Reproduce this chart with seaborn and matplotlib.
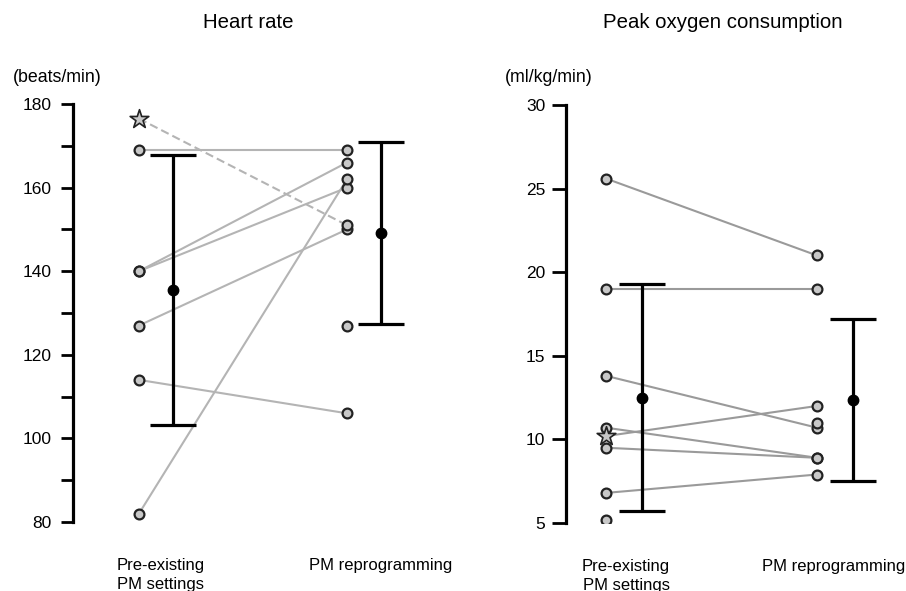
import numpy as np
import pandas as pd
import matplotlib
matplotlib.use("Agg")
import matplotlib.pyplot as plt
import seaborn as sns

# ---------------- data ----------------
groups = ["Pre-existing\nPM settings", "PM reprogramming"]

# Heart rate (beats/min); NaN = no paired value
hr_pre = [176.5, 169, 140, 140, 127, 114, 82, np.nan]
hr_post = [151, 169, 166, 160, 150, 106, 162, 127]
hr_star = 0  # subject drawn with a star / dashed line
hr_mean = [135.5, 149.1]
hr_sd = [32.3, 21.8]

# Peak oxygen consumption (ml/kg/min)
vo2_pre = [25.6, 19.0, 13.8, 10.7, 10.2, 9.5, 6.8, 5.2, np.nan]
vo2_post = [21.0, 19.0, 10.7, 8.9, 12.0, 8.9, 7.9, np.nan, 11.0]
vo2_star = 4
vo2_mean = [12.5, 12.35]
vo2_sd = [6.8, 4.85]

sns.set_theme(style="ticks")
plt.rcParams["font.family"] = ["Liberation Sans", "DejaVu Sans"]
plt.rcParams["text.color"] = "black"
plt.rcParams["xtick.color"] = "black"
plt.rcParams["ytick.color"] = "black"

fig = plt.figure(figsize=(9.06, 5.91), dpi=100)
W, H = 906, 591


def make_axes(left_px, right_px, top_px, bottom_px):
    return fig.add_axes([left_px / W, 1 - bottom_px / H,
                         (right_px - left_px) / W, (bottom_px - top_px) / H])


def long_df(pre, post):
    n = len(pre)
    return pd.DataFrame({
        "subject": list(range(n)) * 2,
        "x": [0.0] * n + [1.0] * n,
        "value": list(pre) + list(post),
    })


def draw_panel(ax, pre, post, star, mean, sd, line_color, bar_off, dashed_star,
               tick_len, tick_pad):
    df = long_df(pre, post)
    star_df = df[df.subject == star]
    rest = df[df.subject != star]
    paired = rest.groupby("subject")["value"].transform(lambda s: s.notna().all())
    sns.lineplot(data=rest[paired], x="x", y="value", units="subject",
                 estimator=None, sort=False, color=line_color, lw=1.5,
                 ax=ax, legend=False, zorder=1)
    sns.lineplot(data=star_df, x="x", y="value", estimator=None, sort=False,
                 color=line_color, lw=1.5, ax=ax, legend=False, zorder=1,
                 linestyle=(0, (4, 2)) if dashed_star else "-")
    pts = rest.dropna()
    sns.scatterplot(data=pts, x="x", y="value", marker="o", s=50,
                    facecolor="#c8c8c8", edgecolor="#222222", linewidth=1.6,
                    ax=ax, legend=False, zorder=3)
    star_pts = star_df.dropna()
    sns.scatterplot(data=star_pts[star_pts.x == 0], x="x", y="value", marker="*",
                    s=200, facecolor="#c8c8c8", edgecolor="#222222", linewidth=1.2,
                    ax=ax, legend=False, zorder=4)
    sns.scatterplot(data=star_pts[star_pts.x == 1], x="x", y="value", marker="o", s=50,
                    facecolor="#c8c8c8", edgecolor="#222222", linewidth=1.6,
                    ax=ax, legend=False, zorder=3)
    ax.errorbar([0 + bar_off, 1 + bar_off], mean, yerr=sd, fmt="o", color="black",
                ms=7.5, capsize=16.5, elinewidth=2.3, capthick=2.3, zorder=2)
    ax.set_xlabel("")
    ax.set_ylabel("")
    for s in ["top", "right", "bottom"]:
        ax.spines[s].set_visible(False)
    ax.spines["left"].set_linewidth(2.3)
    ax.spines["left"].set_color("black")
    ax.tick_params(axis="y", which="both", width=2.0, color="black",
                   labelsize=12.5, pad=tick_pad, direction="out", length=tick_len)
    ax.tick_params(axis="x", length=0, labelsize=12, pad=26)


# ---- left panel: heart rate ----
ax1 = make_axes(73, 452, 104, 522)
draw_panel(ax1, hr_pre, hr_post, hr_star, hr_mean, hr_sd, "#b4b4b4", 0.165, True, 8.5, 7)
ax1.set_ylim(80, 180)
ax1.set_xlim(-0.317, (452 - 139) / 208)
ax1.set_yticks(np.arange(80, 181, 20))
ax1.set_yticks(np.arange(90, 180, 20), minor=True)
ax1.set_xticks([0.106, 1.16])
ax1.set_xticklabels(groups, linespacing=1.3)

# ---- right panel: peak VO2 ----
ax2 = make_axes(566, 906, 105, 523)
draw_panel(ax2, vo2_pre, vo2_post, vo2_star, vo2_mean, vo2_sd, "#9a9a9a", 0.17, False, 10, 5)
ax2.set_ylim(5, 30)
ax2.set_xlim(-0.19, (906 - 606) / 211)
ax2.set_yticks(np.arange(5, 31, 5))
ax2.set_xticks([0.095, 1.08])
ax2.set_xticklabels(groups, linespacing=1.3)

for ax in (ax1, ax2):
    for lab in ax.get_xticklabels():
        lab.set_clip_on(False)

fig.text(248 / W, 1 - 22 / H, "Heart rate", ha="center", va="center", fontsize=14.7)
fig.text(723 / W, 1 - 22 / H, "Peak oxygen consumption", ha="center", va="center", fontsize=14.7)
fig.text(13 / W, 1 - 77 / H, "(beats/min)", ha="left", va="center", fontsize=12.8)
fig.text(505 / W, 1 - 77 / H, "(ml/kg/min)", ha="left", va="center", fontsize=12.8)

fig.savefig("out.png", dpi=100)
